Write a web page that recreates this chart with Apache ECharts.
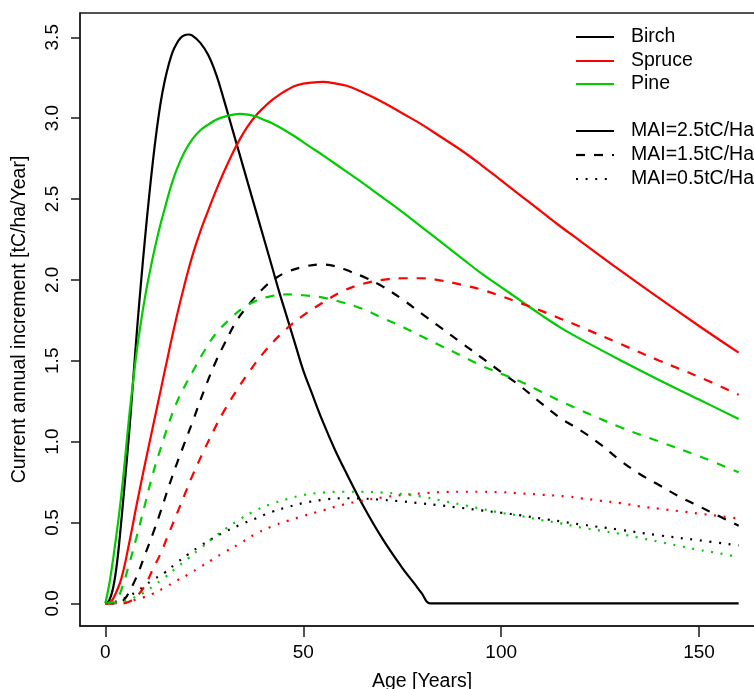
<!DOCTYPE html>
<html>
<head>
<meta charset="utf-8">
<script src="https://cdn.jsdelivr.net/npm/echarts@6/dist/echarts.min.js"></script>
<style>
  html, body { margin: 0; padding: 0; background: #fff; }
  #chart { width: 754px; height: 689px; }
</style>
</head>
<body>
<div id="chart"></div>
<script>
// Current annual increment curves [age, tC/ha/year] per species and MAI class
const birch25 = [[0,0],[1,0.02],[2,0.1],[3,0.26],[4,0.5],[5,0.77],[6,1.05],[7,1.37],[8,1.69],[9,1.98],[10,2.25],[11,2.5],[12,2.73],[13,2.93],[14,3.1],[15,3.23],[16,3.33],[17,3.41],[18,3.46],[19,3.495],[20,3.512],[21,3.517],[22,3.51],[24,3.465],[26,3.39],[28,3.27],[30,3.11],[32,2.94],[34,2.77],[36,2.6],[38,2.43],[40,2.26],[42,2.09],[44,1.92],[46,1.76],[48,1.6],[50,1.44],[52,1.31],[55,1.12],[58,0.95],[61,0.8],[65,0.61],[70,0.4],[75,0.22],[78,0.125],[80,0.06],[82,0],[90,0],[100,0],[120,0],[140,0],[160,0]];
const spruce25 = [[0,0],[1,0.005],[2,0.03],[4,0.15],[6,0.37],[8,0.62],[10,0.86],[12,1.09],[14,1.32],[16,1.55],[18,1.77],[20,1.97],[22,2.15],[24,2.3],[26,2.43],[28,2.555],[30,2.67],[32,2.775],[34,2.87],[36,2.95],[38,3.015],[40,3.065],[42,3.11],[44,3.145],[46,3.175],[48,3.2],[50,3.213],[52,3.22],[55,3.224],[58,3.215],[61,3.2],[65,3.16],[70,3.1],[75,3.03],[80,2.96],[85,2.88],[90,2.8],[95,2.71],[100,2.615],[105,2.52],[110,2.425],[115,2.33],[120,2.24],[130,2.06],[140,1.885],[150,1.715],[160,1.55]];
const pine25 = [[0,0],[1,0.12],[2,0.28],[3,0.46],[4,0.66],[5,0.9],[6,1.15],[7,1.37],[8,1.57],[9,1.74],[10,1.89],[11,2.02],[12,2.14],[13,2.25],[14,2.35],[15,2.44],[16,2.53],[17,2.61],[18,2.68],[20,2.79],[22,2.87],[24,2.925],[26,2.96],[28,2.99],[30,3.008],[32,3.02],[34,3.026],[36,3.022],[38,3.01],[40,2.99],[42,2.97],[45,2.93],[48,2.885],[51,2.835],[55,2.77],[60,2.685],[65,2.6],[70,2.51],[75,2.42],[80,2.325],[85,2.23],[90,2.135],[95,2.04],[100,1.955],[105,1.87],[110,1.785],[115,1.705],[120,1.635],[130,1.505],[140,1.38],[150,1.26],[160,1.14]];

const birch15 = [[0,0],[2,0],[4,0.01],[5,0.03],[6,0.07],[8,0.17],[10,0.3],[12,0.43],[14,0.57],[16,0.72],[18,0.86],[20,0.99],[22,1.12],[25,1.32],[28,1.5],[30,1.6],[33,1.74],[36,1.84],[40,1.95],[43,2.01],[46,2.05],[50,2.08],[54,2.095],[58,2.085],[62,2.05],[66,2.01],[70,1.96],[75,1.88],[80,1.79],[85,1.7],[90,1.61],[95,1.52],[100,1.43],[105,1.34],[110,1.24],[115,1.145],[120,1.07],[125,0.985],[130,0.885],[135,0.8],[140,0.73],[145,0.66],[150,0.6],[155,0.54],[160,0.48]];
const spruce15 = [[0,0],[4,0],[6,0.01],[8,0.045],[10,0.11],[12,0.21],[14,0.31],[16,0.43],[18,0.55],[20,0.67],[22,0.79],[25,0.95],[28,1.1],[30,1.19],[33,1.31],[36,1.42],[40,1.55],[45,1.68],[50,1.78],[55,1.86],[60,1.93],[65,1.975],[70,2.0],[75,2.01],[80,2.01],[85,1.995],[90,1.97],[95,1.94],[100,1.9],[105,1.855],[110,1.81],[115,1.76],[120,1.71],[130,1.605],[140,1.5],[150,1.4],[160,1.29]];
const pine15 = [[0,0],[2,0.01],[3,0.03],[4,0.08],[6,0.24],[8,0.42],[10,0.61],[12,0.8],[14,0.96],[16,1.11],[18,1.24],[20,1.34],[22,1.43],[25,1.56],[28,1.67],[32,1.77],[35,1.83],[38,1.87],[42,1.9],[46,1.91],[50,1.905],[55,1.89],[60,1.86],[65,1.82],[70,1.765],[75,1.71],[80,1.65],[85,1.59],[90,1.53],[95,1.47],[100,1.42],[105,1.37],[110,1.31],[115,1.25],[120,1.195],[130,1.09],[140,1.0],[150,0.91],[160,0.81]];

const birch05 = [[0,0],[2,0.005],[4,0.025],[6,0.045],[8,0.075],[10,0.11],[12,0.145],[15,0.19],[18,0.25],[21,0.305],[24,0.355],[27,0.4],[30,0.44],[34,0.485],[38,0.525],[42,0.565],[46,0.595],[50,0.62],[55,0.64],[60,0.65],[65,0.648],[70,0.64],[75,0.63],[80,0.618],[85,0.605],[90,0.59],[95,0.575],[100,0.56],[105,0.544],[110,0.525],[116,0.503],[120,0.488],[130,0.455],[140,0.42],[150,0.39],[160,0.358]];
const spruce05 = [[0,0],[5,0.005],[8,0.025],[10,0.04],[12,0.06],[15,0.097],[18,0.14],[21,0.18],[24,0.225],[27,0.27],[30,0.315],[34,0.37],[38,0.43],[42,0.475],[46,0.51],[50,0.54],[55,0.575],[60,0.61],[65,0.635],[70,0.655],[75,0.67],[80,0.68],[85,0.688],[90,0.69],[95,0.69],[100,0.687],[105,0.68],[110,0.672],[117,0.66],[120,0.65],[125,0.635],[130,0.62],[135,0.6],[140,0.585],[145,0.57],[150,0.555],[155,0.54],[160,0.525]];
const pine05 = [[0,0],[4,0.01],[6,0.025],[8,0.045],[10,0.07],[12,0.105],[15,0.16],[18,0.22],[21,0.28],[24,0.34],[27,0.4],[30,0.455],[34,0.52],[38,0.575],[42,0.615],[46,0.645],[50,0.67],[55,0.685],[60,0.69],[65,0.69],[70,0.685],[75,0.675],[80,0.66],[85,0.635],[90,0.61],[95,0.585],[100,0.56],[105,0.54],[110,0.515],[115,0.495],[120,0.47],[125,0.45],[130,0.43],[135,0.405],[140,0.38],[145,0.355],[150,0.33],[155,0.31],[160,0.285]];

// Axis ticks and legend text
const xTicks = [0, 50, 100, 150];
const yTicks = [0, 0.5, 1, 1.5, 2, 2.5, 3, 3.5];
const speciesNames = ['Birch', 'Spruce', 'Pine'];
const maiNames = ['MAI=2.5tC/Ha', 'MAI=1.5tC/Ha', 'MAI=0.5tC/Ha'];

const FONT = '"Liberation Sans", Arial, Helvetica, sans-serif';
const COL = { Birch: '#000000', Spruce: '#ff0000', Pine: '#00cd00' };
const LW = 2.2;
const DASH = { solid: 'solid', dashed: [9, 9], dotted: [2, 7.6] };
const AXIS_COL = '#1a1a1a';

function mk(name, data, species, style) {
  return {
    name: name,
    type: 'line',
    data: data,
    smooth: 0.4,
    symbol: 'none',
    silent: true,
    lineStyle: { color: COL[species], width: LW, type: DASH[style], cap: 'butt' }
  };
}

const series = [
  mk('Birch 2.5', birch25, 'Birch', 'solid'),
  mk('Spruce 2.5', spruce25, 'Spruce', 'solid'),
  mk('Pine 2.5', pine25, 'Pine', 'solid'),
  mk('Birch 1.5', birch15, 'Birch', 'dashed'),
  mk('Spruce 1.5', spruce15, 'Spruce', 'dashed'),
  mk('Pine 1.5', pine15, 'Pine', 'dashed'),
  mk('Birch 0.5', birch05, 'Birch', 'dotted'),
  mk('Spruce 0.5', spruce05, 'Spruce', 'dotted'),
  mk('Pine 0.5', pine05, 'Pine', 'dotted')
];

// Legend drawn as graphic elements (colour block, then line-type block)
const legendItems = [];
const lx1 = 576, lx2 = 614, tx = 631;
const rows = [37, 61, 84, 131, 155, 179];
const legendDefs = [
  { text: speciesNames[0], color: COL.Birch, dash: null },
  { text: speciesNames[1], color: COL.Spruce, dash: null },
  { text: speciesNames[2], color: COL.Pine, dash: null },
  { text: maiNames[0], color: '#000', dash: null },
  { text: maiNames[1], color: '#000', dash: [9, 9] },
  { text: maiNames[2], color: '#000', dash: [2, 7.6] }
];
legendDefs.forEach(function (d, i) {
  legendItems.push({
    type: 'line',
    silent: true,
    shape: { x1: lx1, y1: rows[i], x2: lx2, y2: rows[i] },
    style: { stroke: d.color, lineWidth: LW, lineDash: d.dash, lineCap: 'butt' }
  });
  legendItems.push({
    type: 'text',
    silent: true,
    x: tx,
    y: rows[i],
    style: { text: d.text, fill: '#000', fontSize: 19.5, fontFamily: FONT, verticalAlign: 'middle', align: 'left' }
  });
});

const chart = echarts.init(document.getElementById('chart'));
chart.setOption({
  animation: false,
  backgroundColor: '#ffffff',
  textStyle: { fontFamily: FONT },
  grid: {
    left: 80, top: 13, width: 684, height: 613,
    outerBoundsMode: 'none',
    show: true, borderColor: AXIS_COL, borderWidth: 1.3
  },
  xAxis: {
    type: 'value',
    min: -6.4, max: 166.4,
    name: 'Age [Years]',
    nameLocation: 'middle',
    nameGap: 46,
    nameTextStyle: { fontSize: 19.5, color: '#000', fontFamily: FONT },
    axisLine: { show: true, onZero: false, lineStyle: { color: AXIS_COL, width: 1.5 } },
    splitLine: { show: false },
    axisTick: { show: true, customValues: xTicks, length: 11, lineStyle: { color: AXIS_COL, width: 1.5 } },
    axisLabel: { customValues: xTicks, fontSize: 19, color: '#000', fontFamily: FONT, margin: 17 }
  },
  yAxis: {
    type: 'value',
    min: -0.14, max: 3.65,
    name: 'Current annual increment [tC/ha/Year]',
    nameLocation: 'middle',
    nameGap: 50,
    nameTextStyle: { fontSize: 19.5, color: '#000', fontFamily: FONT },
    axisLine: { show: true, onZero: false, lineStyle: { color: AXIS_COL, width: 1.5 } },
    splitLine: { show: false },
    axisTick: { show: true, customValues: yTicks, length: 9, lineStyle: { color: AXIS_COL, width: 1.5 } },
    axisLabel: {
      customValues: yTicks, fontSize: 19, color: '#000', fontFamily: FONT, rotate: 90, margin: 18,
      formatter: function (v) { return v.toFixed(1); }
    }
  },
  graphic: legendItems,
  series: series
});
</script>
</body>
</html>
